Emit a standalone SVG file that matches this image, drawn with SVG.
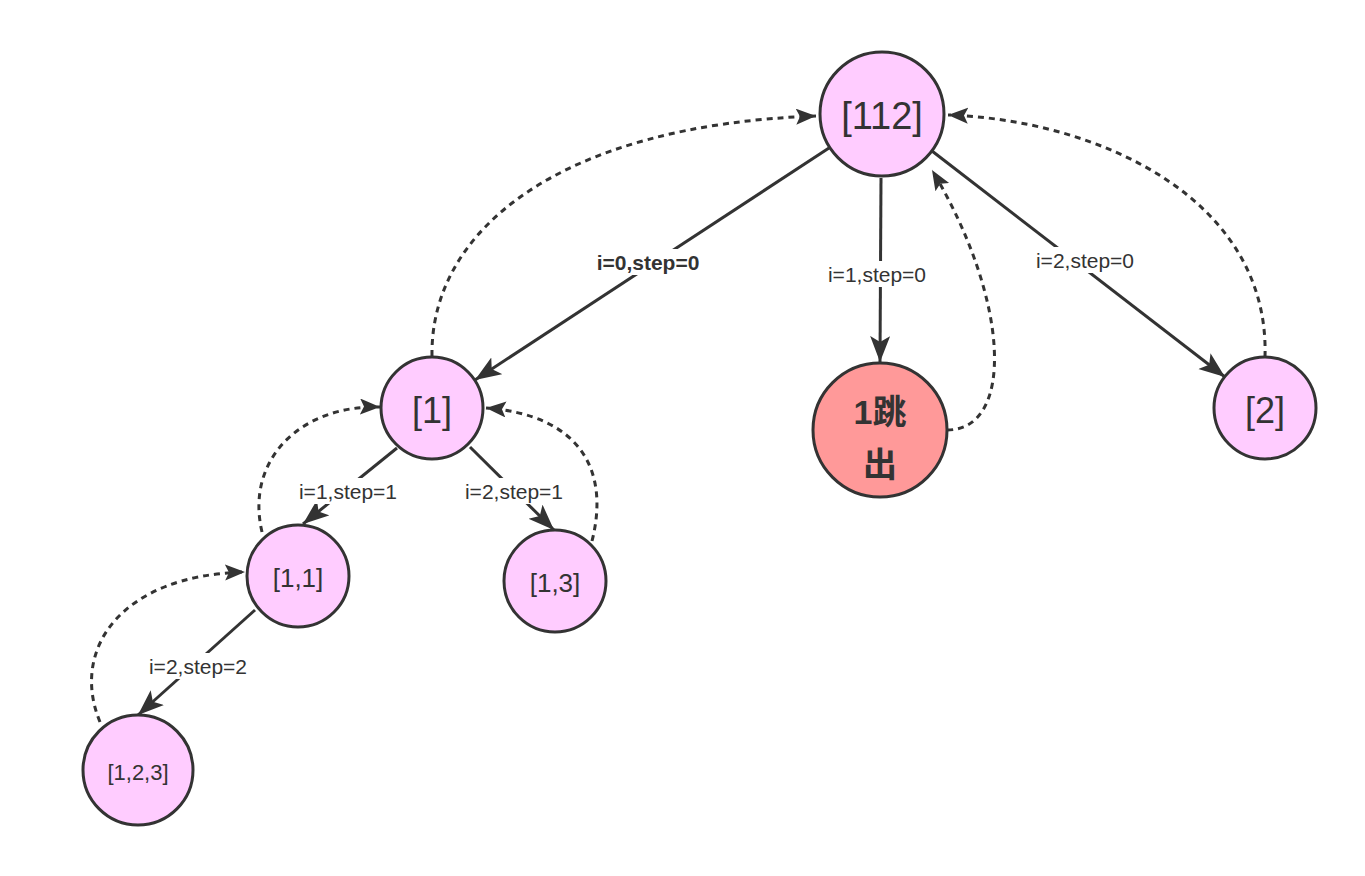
<svg xmlns="http://www.w3.org/2000/svg" width="1365" height="876" viewBox="0 0 1365 876">
<style>
.node{stroke:#333;stroke-width:3}
.pink{fill:#FFCCFF}
.red{fill:#FF9999}
.nt{font-family:"Liberation Sans",Arial,sans-serif;fill:#333;text-anchor:middle;dominant-baseline:central}
.e{fill:none;stroke:#333;stroke-width:3}
.d{fill:none;stroke:#333;stroke-width:3;stroke-dasharray:6 5}
.lbl{font-family:"Liberation Sans",Arial,sans-serif;font-size:21px;fill:#333;text-anchor:middle;dominant-baseline:central}
.lb{fill:#fff}
</style>
<defs>
<marker id="a" markerUnits="userSpaceOnUse" markerWidth="28" markerHeight="22" refX="26" refY="10" orient="auto" viewBox="0 0 28 22">
<path d="M0,0 L26,10 L0,20 L6,10 z" fill="#333"/>
</marker>
<marker id="ad" markerUnits="userSpaceOnUse" markerWidth="22" markerHeight="18" refX="20" refY="8" orient="auto" viewBox="0 0 22 18">
<path d="M0,0 L20,8 L0,16 L4,8 z" fill="#333"/>
</marker>
</defs>
<rect width="1365" height="876" fill="#fff"/>
<g id="connectors">
<path class="e" d="M829,148 L475,380" marker-end="url(#a)"/>
<path class="e" d="M881,178 L880,362" marker-end="url(#a)"/>
<path class="e" d="M932,151 L1225,377" marker-end="url(#a)"/>
<path class="e" d="M397,448 L303,524" marker-end="url(#a)"/>
<path class="e" d="M470,447 L554,530" marker-end="url(#a)"/>
<path class="e" d="M255,610 L138,715" marker-end="url(#a)"/>
<path class="d" d="M432,356 C430,230 560,125 816,116" marker-end="url(#ad)"/>
<path class="d" d="M947,430 C1015,430 1010,300 932,170" marker-end="url(#ad)"/>
<path class="d" d="M1265,357 C1270,200 1100,120 948,115" marker-end="url(#ad)"/>
<path class="d" d="M262,532 C245,460 300,405 380,407" marker-end="url(#ad)"/>
<path class="d" d="M592,541 C610,470 580,415 486,408" marker-end="url(#ad)"/>
<path class="d" d="M100,722 C70,650 120,575 245,572" marker-end="url(#ad)"/>
<rect class="lb" x="580" y="249" width="136" height="26"/>
<text class="lbl" x="648" y="262" font-weight="bold">i=0,step=0</text>
<rect class="lb" x="810" y="261" width="134" height="26"/>
<text class="lbl" x="877" y="274">i=1,step=0</text>
<rect class="lb" x="1018" y="247" width="134" height="26"/>
<text class="lbl" x="1085" y="260">i=2,step=0</text>
<rect class="lb" x="286" y="478" width="124" height="26"/>
<text class="lbl" x="348" y="491">i=1,step=1</text>
<rect class="lb" x="452" y="478" width="124" height="26"/>
<text class="lbl" x="514" y="491">i=2,step=1</text>
<rect class="lb" x="131" y="653" width="134" height="26"/>
<text class="lbl" x="198" y="666">i=2,step=2</text>
</g>
<g id="n112"><circle class="node pink" cx="882" cy="114" r="62"/><text class="nt" x="882" y="116" font-size="38">[112]</text></g>
<g id="n1"><circle class="node pink" cx="432" cy="408" r="51"/><text class="nt" x="432" y="410" font-size="36">[1]</text></g>
<g id="njump"><circle class="node red" cx="880" cy="430" r="67"/><text class="nt" x="880" y="412" font-size="34" font-weight="bold" style="font-family:'Liberation Sans','Noto Sans CJK SC',sans-serif">1跳</text><text class="nt" x="880" y="462" font-size="34" font-weight="bold" style="font-family:'Noto Sans CJK SC',sans-serif">出</text></g>
<g id="n2"><circle class="node pink" cx="1265" cy="408" r="51"/><text class="nt" x="1265" y="410" font-size="36">[2]</text></g>
<g id="n11"><circle class="node pink" cx="298" cy="576" r="51"/><text class="nt" x="298" y="578" font-size="26">[1,1]</text></g>
<g id="n13"><circle class="node pink" cx="555" cy="581" r="51"/><text class="nt" x="555" y="583" font-size="26">[1,3]</text></g>
<g id="n123"><circle class="node pink" cx="138" cy="770" r="55"/><text class="nt" x="138" y="772" font-size="22">[1,2,3]</text></g>
</svg>
